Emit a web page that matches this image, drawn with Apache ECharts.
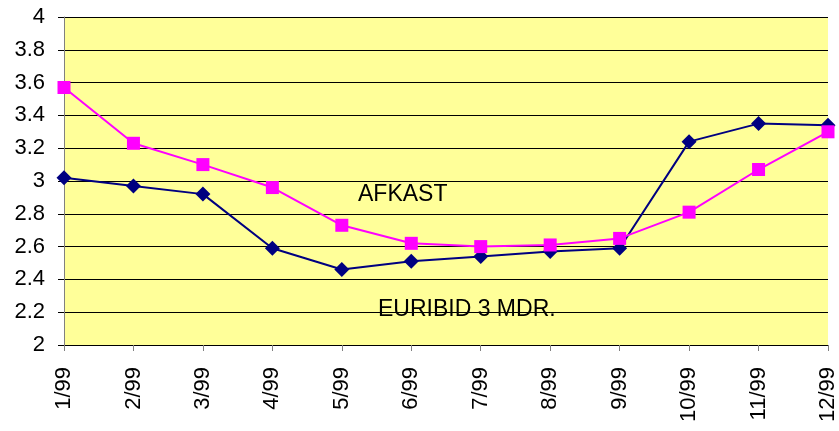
<!DOCTYPE html>
<html>
<head>
<meta charset="utf-8">
<script src="https://cdn.jsdelivr.net/npm/echarts@6/dist/echarts.min.js"></script>
<style>
  html, body { margin: 0; padding: 0; background: #fff; }
  #chart { width: 839px; height: 431px; }
</style>
</head>
<body>
<div id="chart"></div>
<script>
const months = ['1/99', '2/99', '3/99', '4/99', '5/99', '6/99', '7/99', '8/99', '9/99', '10/99', '11/99', '12/99']
const afkast = [3.57, 3.23, 3.10, 2.96, 2.73, 2.62, 2.60, 2.61, 2.65, 2.81, 3.07, 3.30]
const euribid = [3.02, 2.97, 2.92, 2.59, 2.46, 2.51, 2.54, 2.57, 2.59, 3.24, 3.35, 3.34]

const chart = echarts.init(document.getElementById('chart'))
const font = 'Liberation Sans, Arial, sans-serif'

chart.setOption({
  animation: false,
  grid: { left: 64, right: 9, top: 17, bottom: 86, show: true, backgroundColor: '#FFFF99', borderWidth: 0 },
  xAxis: {
    type: 'category',
    boundaryGap: false,
    data: months,
    axisLine: { lineStyle: { color: '#000', width: 1 } },
    axisTick: { show: true, alignWithLabel: true, length: 6, lineStyle: { color: '#808080' } },
    axisLabel: { rotate: 90, margin: 22, color: '#000', fontSize: 22, fontFamily: font }
  },
  yAxis: {
    type: 'value',
    min: 2,
    max: 4,
    interval: 0.2,
    axisLine: { show: true, lineStyle: { color: '#808080' } },
    axisTick: { show: true, length: 6, lineStyle: { color: '#000' } },
    axisLabel: { color: '#000', fontSize: 22, fontFamily: font, margin: 19 },
    splitLine: { lineStyle: { color: '#000', width: 1 } }
  },
  series: [
    {
      name: 'EURIBID 3 MDR.',
      type: 'line',
      data: euribid,
      symbol: 'diamond',
      symbolSize: 15,
      lineStyle: { color: '#000080', width: 2 },
      itemStyle: { color: '#000080' },
      z: 3
    },
    {
      name: 'AFKAST',
      type: 'line',
      data: afkast,
      symbol: 'rect',
      symbolSize: 13,
      lineStyle: { color: '#FF00FF', width: 2 },
      itemStyle: { color: '#FF00FF' },
      z: 4
    }
  ],
  graphic: [
    { type: 'text', left: 358, top: 183, style: { text: 'AFKAST', fill: '#000', font: '23px ' + font } },
    { type: 'text', left: 378, top: 298, style: { text: 'EURIBID 3 MDR.', fill: '#000', font: '23px ' + font } }
  ]
})
</script>
</body>
</html>
